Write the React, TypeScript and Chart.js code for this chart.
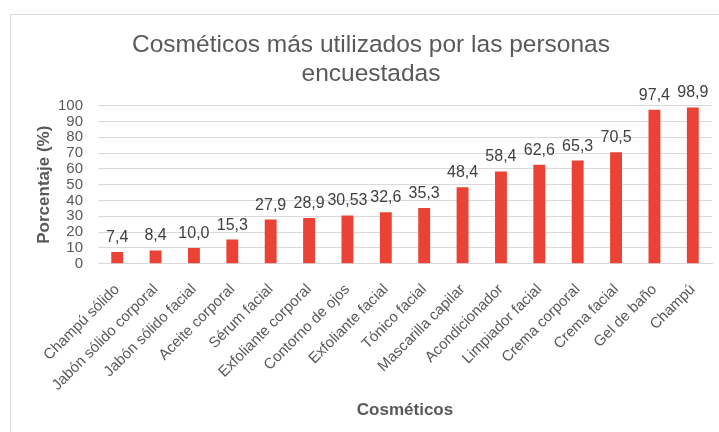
import React, { useEffect, useRef } from "react";
import { Chart, registerables } from "chart.js";

Chart.register(...registerables);

const categories = [
  "Champú sólido",
  "Jabón sólido corporal",
  "Jabón sólido facial",
  "Aceite corporal",
  "Sérum facial",
  "Exfoliante corporal",
  "Contorno de ojos",
  "Exfoliante facial",
  "Tónico facial",
  "Mascarilla capilar",
  "Acondicionador",
  "Limpiador facial",
  "Crema corporal",
  "Crema facial",
  "Gel de baño",
  "Champú",
];

const values = [7.4, 8.4, 10.0, 15.3, 27.9, 28.9, 30.53, 32.6, 35.3, 48.4, 58.4, 62.6, 65.3, 70.5, 97.4, 98.9];

const valueLabels = ["7,4", "8,4", "10,0", "15,3", "27,9", "28,9", "30,53", "32,6", "35,3", "48,4", "58,4", "62,6", "65,3", "70,5", "97,4", "98,9"];

const titleLines = ["Cosméticos más utilizados por las personas", "encuestadas"];
const xTitle = "Cosméticos";
const yTitle = "Porcentaje (%)";

const FONT = "'Liberation Sans', Arial, sans-serif";
const TEXT = "#595959";

const dataLabelPlugin = {
  id: "dataLabels",
  afterDatasetsDraw(chart: any) {
    const ctx = chart.ctx;
    const meta = chart.getDatasetMeta(0);
    ctx.save();
    ctx.font = `16px ${FONT}`;
    ctx.fillStyle = "#404040";
    ctx.textAlign = "center";
    ctx.textBaseline = "alphabetic";
    meta.data.forEach((el: any, i: number) => {
      ctx.fillText(valueLabels[i], el.x, el.y - 10);
    });
    ctx.restore();
  },
};

const centeredTitlePlugin = {
  id: "centeredTitle",
  afterDraw(chart: any) {
    const ctx = chart.ctx;
    ctx.save();
    ctx.font = `24.5px ${FONT}`;
    ctx.fillStyle = TEXT;
    ctx.textAlign = "center";
    ctx.textBaseline = "alphabetic";
    const cx = chart.width / 2;
    titleLines.forEach((line, i) => {
      ctx.fillText(line, cx, 36.7 + i * 29.3);
    });
    ctx.restore();
  },
};

export default function App() {
  const ref = useRef<HTMLCanvasElement>(null);
  useEffect(() => {
    if (!ref.current) return;
    const chart = new Chart(ref.current, {
      type: "bar",
      data: {
        labels: categories,
        datasets: [
          {
            data: values,
            backgroundColor: "#EA4335",
            barPercentage: 0.31,
            categoryPercentage: 1,
          },
        ],
      },
      options: {
        animation: false,
        responsive: false,
        maintainAspectRatio: false,
        layout: { padding: { left: 0, right: 19, top: 90.7, bottom: 0 } },
        plugins: {
          legend: { display: false },
          tooltip: { enabled: false },
          title: { display: false },
        },
        scales: {
          x: {
            grid: { display: false, drawTicks: false },
            border: { display: true, color: "#d9d9d9" },
            ticks: {
              color: TEXT,
              font: { family: FONT, size: 15 },
              minRotation: 45,
              maxRotation: 45,
              autoSkip: false,
              padding: 17,
            },
            title: {
              display: true,
              text: xTitle,
              color: TEXT,
              font: { family: FONT, size: 17, weight: "bold", lineHeight: 1.2 },
              padding: { top: 0, bottom: 14.5 },
            },
            afterFit(scale: any) {
              scale.height = 171.3;
            },
          },
          y: {
            min: 0,
            max: 100,
            grid: { color: "#d9d9d9", drawTicks: false },
            border: { display: false },
            ticks: {
              stepSize: 10,
              autoSkip: false,
              color: TEXT,
              font: { family: FONT, size: 15 },
              padding: 15,
            },
            title: {
              display: true,
              text: yTitle,
              color: TEXT,
              font: { family: FONT, size: 17, weight: "bold", lineHeight: 1.2 },
              padding: { top: 22.8, bottom: 0 },
            },
            afterFit(scale: any) {
              scale.width = 87;
            },
          },
        },
      },
      plugins: [dataLabelPlugin, centeredTitlePlugin],
    });
    return () => chart.destroy();
  }, []);

  return (
    <div
      style={{
        position: "fixed",
        left: 10,
        top: 14,
        width: 720,
        height: 420,
        border: "1px solid #d9d9d9",
        background: "#fff",
      }}
    >
      <canvas ref={ref} width={720} height={420} style={{ display: "block" }} />
    </div>
  );
}
